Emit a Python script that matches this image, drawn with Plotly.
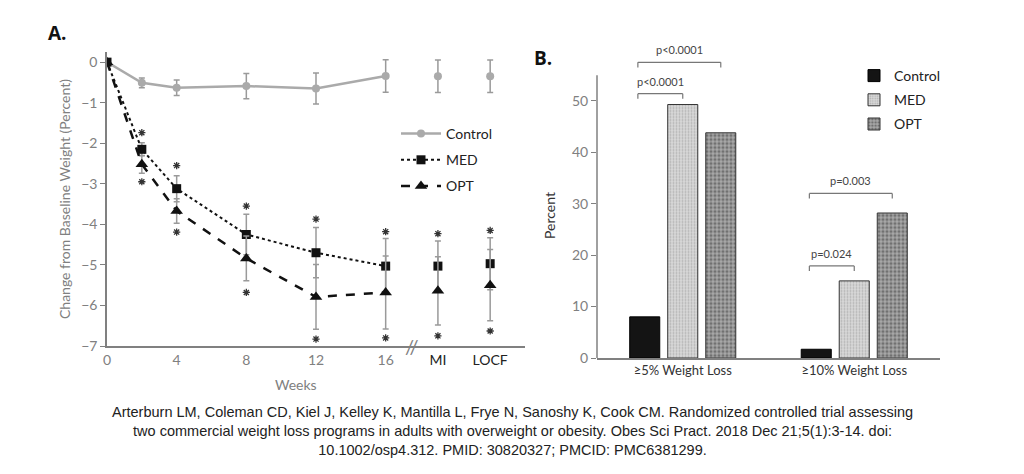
import plotly.graph_objects as go

# ---------------- Panel A data ----------------
weeks = [0, 2, 4, 8, 12, 16]
imp_labels = ["MI", "LOCF"]

ctrl = [0, -0.51, -0.63, -0.59, -0.65, -0.34]
ctrl_err = [0, 0.12, 0.19, 0.31, 0.38, 0.40]
ctrl_imp = [-0.35, -0.35]
ctrl_imp_err = [0.40, 0.40]

med = [0, -2.15, -3.12, -4.25, -4.70, -5.03]
med_err = [0, 0.16, 0.32, 0.50, 0.62, 0.68]
med_imp = [-5.03, -4.97]
med_imp_err = [0.62, 0.64]

opt = [0, -2.52, -3.67, -4.84, -5.79, -5.68]
opt_err = [0, 0.22, 0.30, 0.55, 0.80, 0.90]
opt_imp = [-5.64, -5.50]
opt_imp_err = [0.84, 0.88]

star_weeks = [2, 4, 8, 12, 16]
med_star = [-1.74, -2.55, -3.55, -3.87, -4.18]
med_star_imp = [-4.23, -4.15]
opt_star = [-2.95, -4.19, -5.68, -6.83, -6.80]
opt_star_imp = [-6.75, -6.63]

# ---------------- Panel B data ----------------
categories = ["\u22655% Weight Loss", "\u226510% Weight Loss"]
bar_ctrl = [8.0, 1.7]
bar_med = [49.3, 15.0]
bar_opt = [43.8, 28.2]
# comparisons: (category index, target series index, label, bracket height)
comparisons = [
    (0, 1, "p<0.0001", 51.4),
    (0, 2, "p<0.0001", 57.5),
    (1, 1, "p=0.024", 17.9),
    (1, 2, "p=0.003", 32.0),
]

GRAY = "#808080"
LGRAY = "#aaaaaa"
ERR = "#9a9a9a"
FONT = "Lato"

# x positions of the imputation columns (after axis break)
imp_x = [19, 22]

fig = go.Figure()

def err(a):
    return dict(type="data", array=a, color=ERR, thickness=1.5, width=3)

# Control
fig.add_trace(go.Scatter(x=weeks, y=ctrl, error_y=err(ctrl_err), mode="lines+markers",
                         line=dict(color=LGRAY, width=2.5),
                         marker=dict(symbol="circle", size=8, color=LGRAY),
                         name="Control", legend="legend", legendgroup="a1"))
fig.add_trace(go.Scatter(x=imp_x, y=ctrl_imp, error_y=err(ctrl_imp_err), mode="markers",
                         marker=dict(symbol="circle", size=8, color=LGRAY),
                         showlegend=False))
# MED
fig.add_trace(go.Scatter(x=weeks, y=med, error_y=err(med_err), mode="lines+markers",
                         line=dict(color="#111111", width=2, dash="dot"),
                         marker=dict(symbol="square", size=9, color="#111111"),
                         name="MED", legend="legend", legendgroup="a2"))
fig.add_trace(go.Scatter(x=imp_x, y=med_imp, error_y=err(med_imp_err), mode="markers",
                         marker=dict(symbol="square", size=9, color="#111111"),
                         showlegend=False))
# OPT
fig.add_trace(go.Scatter(x=weeks, y=opt, error_y=err(opt_err), mode="lines+markers",
                         line=dict(color="#111111", width=2.5, dash="dash"),
                         marker=dict(symbol="triangle-up", size=11, color="#111111"),
                         name="OPT", legend="legend", legendgroup="a3"))
fig.add_trace(go.Scatter(x=imp_x, y=opt_imp, error_y=err(opt_imp_err), mode="markers",
                         marker=dict(symbol="triangle-up", size=11, color="#111111"),
                         showlegend=False))
# asterisks
star_marker = dict(symbol="asterisk-open", size=6, color="#333333",
                   line=dict(color="#333333", width=1.3))
fig.add_trace(go.Scatter(x=star_weeks + imp_x, y=med_star + med_star_imp, mode="markers",
                         marker=star_marker, showlegend=False))
fig.add_trace(go.Scatter(x=star_weeks + imp_x, y=opt_star + opt_star_imp, mode="markers",
                         marker=star_marker, showlegend=False))

# ---------------- Panel B bars ----------------
bar_specs = [
    ("Control", bar_ctrl, dict(color="#141414", line=dict(color="#000000", width=1))),
    ("MED", bar_med, dict(color="#d4d4d4", line=dict(color="#333333", width=1),
                          pattern=dict(shape=".", fgcolor="#8a8a8a", bgcolor="#d8d8d8",
                                       size=3, solidity=0.35))),
    ("OPT", bar_opt, dict(color="#8a8a8a", line=dict(color="#333333", width=1),
                          pattern=dict(shape=".", fgcolor="#3a3a3a", bgcolor="#a8a8a8",
                                       size=4, solidity=0.5))),
]
for i, (name, vals, mk) in enumerate(bar_specs):
    fig.add_trace(go.Bar(x=categories, y=vals, name=name, marker=mk,
                         xaxis="x2", yaxis="y2", legend="legend2", legendgroup="b%d" % i))

bargap = 0.335
bargroupgap = 0.21
slot = (1 - bargap) / 3
offsets = [(i - 1) * slot for i in range(3)]

shapes = []
annotations = []
for ci, target, label, h in comparisons:
    x0 = ci + offsets[0] - 0.04
    x1 = ci + offsets[target]
    for (a, b, c, d) in [(x0, h, x1, h), (x0, h, x0, h - 1), (x1, h, x1, h - 1)]:
        shapes.append(dict(type="line", xref="x2", yref="y2", x0=a, y0=b, x1=c, y1=d,
                           line=dict(color="#777777", width=1.2)))
    annotations.append(dict(x=(x0 + x1) / 2, y=h + 0.8, xref="x2", yref="y2", text=label,
                            showarrow=False, yanchor="bottom", xanchor="center",
                            font=dict(family=FONT, size=11, color="#444444")))

# right y-axis line (stops at 55)
shapes.append(dict(type="line", xref="x2 domain", yref="y2", x0=0, x1=0, y0=0, y1=55,
                   line=dict(color=GRAY, width=1.5)))

# axis break marks
annotations.append(dict(x=(weeks[-1] + imp_x[0]) / 2, y=-7, xref="x", yref="y", text="//",
                        showarrow=False, xanchor="center", yanchor="middle",
                        font=dict(family=FONT, size=20, color=GRAY)))

def pa(x, y, text, **kw):
    d = dict(x=x / 1024, y=1 - y / 474, xref="paper", yref="paper", text=text,
             showarrow=False, xanchor="center", yanchor="middle")
    d.update(kw)
    return d

annotations += [
    pa(57, 33, "<b>A.</b>", font=dict(family="Open Sans", size=19, color="#111111")),
    pa(543, 58, "<b>B.</b>", font=dict(family="Open Sans", size=19, color="#111111")),
    pa(64, 199, "Change from Baseline Weight (Percent)", textangle=-90,
       font=dict(family=FONT, size=14, color=GRAY)),
    pa(296, 384, "Weeks", font=dict(family=FONT, size=14, color=GRAY)),
    pa(549, 216, "Percent", textangle=-90, font=dict(family=FONT, size=14, color="#333333")),
    pa(512, 431,
       ("Arterburn LM, Coleman CD, Kiel J, Kelley K, Mantilla L, Frye N, Sanoshy K, Cook CM. "
        "Randomized controlled trial assessing<br>two commercial weight loss programs in adults "
        "with overweight or obesity. Obes Sci Pract. 2018 Dec 21;5(1):3-14. doi:<br>"
        "10.1002/osp4.312. PMID: 30820327; PMCID: PMC6381299."),
       align="center",
       font=dict(family="Liberation Sans Narrow, Liberation Sans, Arial", size=14.5, color="#222222")),
]

tick_text = [str(w) for w in [0, 4, 8, 12, 16]] + \
    ["<span style='color:#222222'>%s</span>" % l for l in imp_labels]

fig.update_layout(
    width=1024, height=474,
    margin=dict(l=0, r=0, t=0, b=0, autoexpand=False),
    paper_bgcolor="white", plot_bgcolor="white",
    font=dict(family=FONT, color=GRAY),
    barmode="group", bargap=bargap, bargroupgap=bargroupgap,
    xaxis=dict(domain=[107 / 1024, 525 / 1024], range=[0, 24],
               tickvals=[0, 4, 8, 12, 16] + imp_x, ticktext=tick_text,
               showline=True, linecolor=GRAY, linewidth=1.5, showgrid=False, zeroline=False,
               ticks="", tickfont=dict(family=FONT, size=14, color=GRAY), anchor="y"),
    yaxis=dict(domain=[1 - 346 / 474, 1 - 52 / 474], range=[-7, 0.25],
               tickvals=[0, -1, -2, -3, -4, -5, -6, -7],
               showline=True, linecolor=GRAY, linewidth=1.5, showgrid=False, zeroline=False,
               ticks="outside", ticklen=5, tickcolor=GRAY, tickwidth=1.2,
               tickfont=dict(family=FONT, size=14, color=GRAY), anchor="x"),
    xaxis2=dict(domain=[597 / 1024, 940 / 1024], range=[-0.5, 1.5], type="category",
                showline=True, linecolor=GRAY, linewidth=1.5, showgrid=False, zeroline=False,
                ticks="", tickfont=dict(family=FONT, size=13, color="#333333"), anchor="y2"),
    yaxis2=dict(domain=[1 - 358 / 474, 1 - 49.5 / 474], range=[0, 60],
                tickvals=[0, 10, 20, 30, 40, 50],
                showline=False, showgrid=False, zeroline=False,
                ticks="outside", ticklen=5, tickcolor=GRAY, tickwidth=1.2,
                tickfont=dict(family=FONT, size=14, color=GRAY), anchor="x2"),
    legend=dict(x=396 / 1024, y=1 - 118 / 474, xanchor="left", yanchor="top",
                font=dict(family=FONT, size=14, color="#222222"), bgcolor="rgba(0,0,0,0)",
                tracegroupgap=5, itemwidth=40),
    legend2=dict(x=854 / 1024, y=1 - 60 / 474, xanchor="left", yanchor="top",
                 font=dict(family=FONT, size=14, color="#222222"), bgcolor="rgba(0,0,0,0)",
                 tracegroupgap=3, itemwidth=30),
    shapes=shapes, annotations=annotations,
)

fig.write_html("out.html")
